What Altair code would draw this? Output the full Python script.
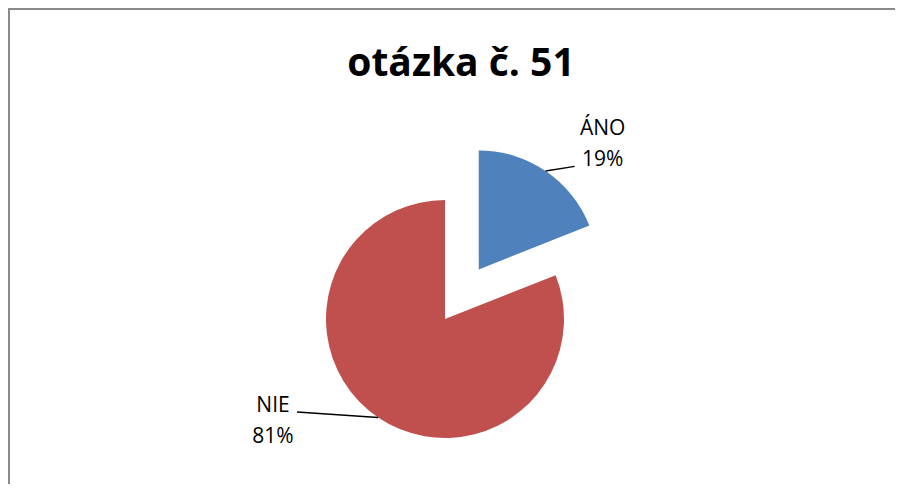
import json
import altair as alt
import pandas as pd

# ---- data ----
categories = ["ÁNO", "NIE"]
values = [19, 81]
colors = ["#4F81BD", "#C0504D"]
exploded = ["ÁNO"]
title_text = "otázka č. 51"

df = pd.DataFrame({"category": categories, "value": values,
                   "order": list(range(len(categories)))})

# ---- layout constants (pixels, relative to the chart's origin at page (8, 8)) ----
W, H = 887, 476
CX, CY, R, EXPLODE = 437, 311, 119, 60
FONT = "Open Sans"
LINE_H = 31

cat_expr = "datum.category == 'ÁNO'"

base = (
    alt.Chart(df)
    .transform_joinaggregate(total="sum(value)")
    .transform_window(cum="sum(value)", sort=[alt.SortField("order")], frame=[None, 0])
    .transform_calculate(
        start="2*PI*(datum.cum - datum.value)/datum.total",
        end="2*PI*datum.cum/datum.total",
        ex=f"indexof({json.dumps(exploded)}, datum.category) >= 0 ? {EXPLODE} : 0",
    )
    .transform_calculate(mid="(datum.start + datum.end)/2")
    .transform_calculate(
        cx=f"{CX} + datum.ex*sin(datum.mid)",
        cy=f"{CY} - datum.ex*cos(datum.mid)",
    )
    .transform_calculate(
        ax=f"datum.cx + {R}*sin(datum.mid)",
        ay=f"datum.cy - {R}*cos(datum.mid)",
        bx=f"datum.cx + ({cat_expr} ? 96 : -148)",
        by=f"datum.cy + ({cat_expr} ? -103 : 93)",
        lx=f"datum.cx + ({cat_expr} ? 124 : -172)",
        ly=f"datum.cy + ({cat_expr} ? -140 : 87)",
        label="[datum.category, format(datum.value/datum.total, '.0%')]",
    )
)

arcs = base.mark_arc(radius=R).encode(
    theta=alt.Theta("start:Q", scale=None),
    theta2="end:Q",
    x=alt.X("cx:Q", scale=None),
    y=alt.Y("cy:Q", scale=None),
    color=alt.Color("category:N", scale=alt.Scale(domain=categories, range=colors), legend=None),
)

leaders = base.mark_rule(color="black", strokeWidth=1.5).encode(
    x=alt.X("ax:Q", scale=None),
    y=alt.Y("ay:Q", scale=None),
    x2="bx:Q",
    y2="by:Q",
)

labels = base.mark_text(font=FONT, fontSize=21, lineHeight=LINE_H, align="center",
                        baseline="middle", color="black").encode(
    x=alt.X("lx:Q", scale=None),
    y=alt.Y("ly:Q", scale=None),
    text=alt.Text("label:N"),
)

title = alt.Chart(pd.DataFrame({"t": [title_text]})).mark_text(
    font=FONT, fontSize=39, fontWeight="bold", align="center",
    baseline="alphabetic", color="black"
).encode(text="t:N", x=alt.value(453), y=alt.value(68))

frame_df = pd.DataFrame({"a": [0]})
top_border = alt.Chart(frame_df).mark_rule(color="#8a8a8a", strokeWidth=2).encode(
    x=alt.value(0), x2=alt.value(W), y=alt.value(1))
left_border = alt.Chart(frame_df).mark_rule(color="#8a8a8a", strokeWidth=2).encode(
    x=alt.value(1), y=alt.value(0), y2=alt.value(H))

chart = (
    alt.layer(top_border, left_border, arcs, leaders, labels, title)
    .properties(width=W, height=H, padding=0, autosize=alt.AutoSizeParams(type="none"),
                background="white")
    .configure_view(stroke=None)
)

chart.save("out.html", embed_options={"renderer": "svg", "actions": False})
